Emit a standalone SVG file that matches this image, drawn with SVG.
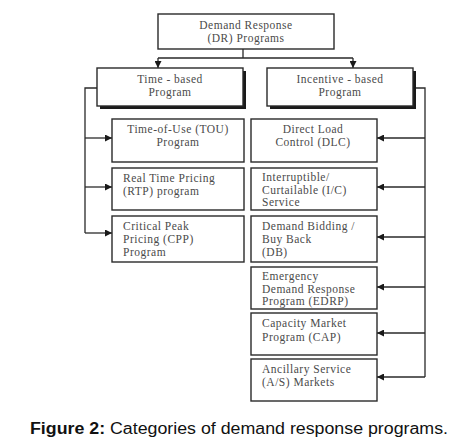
<svg xmlns="http://www.w3.org/2000/svg" width="462" height="441" viewBox="0 0 462 441">
<style>
.box{fill:#fff;stroke:#2a2a2a;stroke-width:1.4}
.sh{fill:#1a1a1a}
.t{font-family:"Liberation Serif","Times New Roman",serif;font-size:11.5px;letter-spacing:0.5px;fill:#4a4a4a}
.c{text-anchor:middle}
.ln{fill:none;stroke:#2a2a2a;stroke-width:1.3}
.cap{font-family:"Liberation Sans",Arial,sans-serif;font-size:16px;fill:#111}
</style>
<defs>
<marker id="ah" viewBox="0 0 10 10" refX="10" refY="5" markerWidth="7" markerHeight="7" markerUnits="userSpaceOnUse" orient="auto">
<path d="M0,0 L10,5 L0,10 z" fill="#1a1a1a"/>
</marker>
</defs>
<rect width="462" height="441" fill="#fff"/>
<g id="connectors">
<path class="ln" d="M243,49 V58 M158,58 H353"/>
<path class="ln" d="M158,58 V68" marker-end="url(#ah)"/>
<path class="ln" d="M353,58 V68" marker-end="url(#ah)"/>
<path class="ln" d="M97,88 H85 V233"/>
<path class="ln" d="M85,138 H112" marker-end="url(#ah)"/>
<path class="ln" d="M85,187 H112" marker-end="url(#ah)"/>
<path class="ln" d="M85,233 H112" marker-end="url(#ah)"/>
<path class="ln" d="M413,88 H425 V377"/>
<path class="ln" d="M425,138 H377" marker-end="url(#ah)"/>
<path class="ln" d="M425,187 H377" marker-end="url(#ah)"/>
<path class="ln" d="M425,237 H377" marker-end="url(#ah)"/>
<path class="ln" d="M425,287 H377" marker-end="url(#ah)"/>
<path class="ln" d="M425,333 H377" marker-end="url(#ah)"/>
<path class="ln" d="M425,377 H377" marker-end="url(#ah)"/>
</g>
<g id="dr">
<rect class="box" x="158" y="14" width="176" height="35"/>
<text class="t c" x="246" y="29">Demand Response</text>
<text class="t c" x="246" y="42">(DR) Programs</text>
</g>
<g id="time">
<rect class="sh" x="100" y="71" width="146" height="38"/>
<rect class="box" x="97" y="68" width="146" height="38"/>
<text class="t c" x="170" y="83">Time - based</text>
<text class="t c" x="170" y="96">Program</text>
</g>
<g id="incentive">
<rect class="sh" x="270" y="71" width="146" height="38"/>
<rect class="box" x="267" y="68" width="146" height="38"/>
<text class="t c" x="340" y="83">Incentive - based</text>
<text class="t c" x="340" y="96">Program</text>
</g>
<g id="tou">
<rect class="box" x="112" y="119" width="132" height="43"/>
<text class="t c" x="178" y="133">Time-of-Use (TOU)</text>
<text class="t c" x="178" y="146">Program</text>
</g>
<g id="rtp">
<rect class="box" x="112" y="168" width="132" height="42"/>
<text class="t" x="123" y="182">Real Time Pricing</text>
<text class="t" x="123" y="195">(RTP) program</text>
</g>
<g id="cpp">
<rect class="box" x="112" y="216" width="132" height="46"/>
<text class="t" x="123" y="230">Critical Peak</text>
<text class="t" x="123" y="243">Pricing (CPP)</text>
<text class="t" x="123" y="256">Program</text>
</g>
<g id="dlc">
<rect class="box" x="251" y="119" width="126" height="43"/>
<text class="t c" x="313" y="133">Direct Load</text>
<text class="t c" x="313" y="146">Control (DLC)</text>
</g>
<g id="ic">
<rect class="box" x="251" y="168" width="126" height="42"/>
<text class="t" x="262" y="181">Interruptible/</text>
<text class="t" x="262" y="194">Curtailable (I/C)</text>
<text class="t" x="262" y="206">Service</text>
</g>
<g id="db">
<rect class="box" x="251" y="216" width="126" height="46"/>
<text class="t" x="262" y="230">Demand Bidding /</text>
<text class="t" x="262" y="243">Buy Back</text>
<text class="t" x="262" y="256">(DB)</text>
</g>
<g id="edrp">
<rect class="box" x="251" y="267" width="126" height="42"/>
<text class="t" x="262" y="280">Emergency</text>
<text class="t" x="262" y="293">Demand Response</text>
<text class="t" x="262" y="305">Program (EDRP)</text>
</g>
<g id="cap">
<rect class="box" x="251" y="313" width="126" height="42"/>
<text class="t" x="262" y="327">Capacity Market</text>
<text class="t" x="262" y="341">Program (CAP)</text>
</g>
<g id="as">
<rect class="box" x="251" y="359" width="126" height="42"/>
<text class="t" x="262" y="373">Ancillary Service</text>
<text class="t" x="262" y="386">(A/S) Markets</text>
</g>
<text class="cap" x="30" y="434" textLength="418" lengthAdjust="spacingAndGlyphs"><tspan font-weight="bold">Figure 2:</tspan> Categories of demand response programs.</text>
</svg>
